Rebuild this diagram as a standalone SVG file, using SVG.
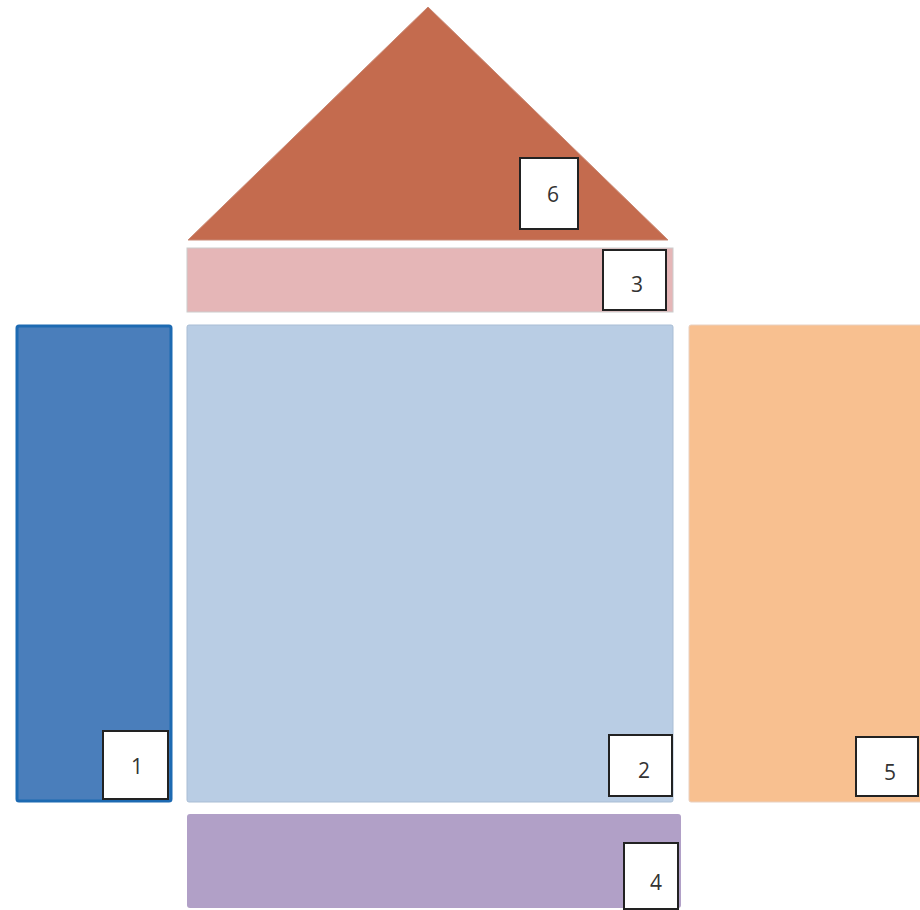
<svg xmlns="http://www.w3.org/2000/svg" width="920" height="910" viewBox="0 0 920 910">
<style>
.lbl{fill:#fff;stroke:#222;stroke-width:2}
.t{font-family:"Open Sans","Liberation Sans",sans-serif;font-size:21px;fill:#333;text-anchor:middle}
</style>
<rect width="920" height="910" fill="#fff"/>
<g id="n6">
<polygon points="428,7 188,240 668,240" fill="#c46b4e" stroke="#c98a76" stroke-width="1"/>
<rect class="lbl" x="520" y="158" width="58" height="71"/>
<text class="t" x="553" y="202">6</text>
</g>
<g id="n3">
<rect x="187" y="248" width="486" height="64" fill="#e5b6b7" stroke="#ccc" stroke-width="1"/>
<rect class="lbl" x="603" y="250" width="63" height="60"/>
<text class="t" x="637" y="292">3</text>
</g>
<g id="n1">
<rect x="17" y="326" width="154" height="475" rx="2" fill="#4a7ebb" stroke="#1d6ab2" stroke-width="3"/>
<rect class="lbl" x="103" y="731" width="65" height="68"/>
<text class="t" x="137" y="774">1</text>
</g>
<g id="n2">
<rect x="187" y="325" width="486" height="477" rx="2" fill="#b9cde4" stroke="#a9bdd4" stroke-width="1"/>
<rect class="lbl" x="609" y="735" width="63" height="61"/>
<text class="t" x="644" y="778">2</text>
</g>
<g id="n5">
<rect x="689" y="325" width="235" height="477" rx="2" fill="#f8c090" stroke="#e8d0c0" stroke-width="1"/>
<rect class="lbl" x="856" y="737" width="62" height="59"/>
<text class="t" x="890" y="780">5</text>
</g>
<g id="n4">
<rect x="187" y="814" width="494" height="94" rx="3" fill="#b1a0c7"/>
<rect class="lbl" x="624" y="843" width="54" height="66"/>
<text class="t" x="656" y="890">4</text>
</g>
<g id="connectors"></g>
</svg>
